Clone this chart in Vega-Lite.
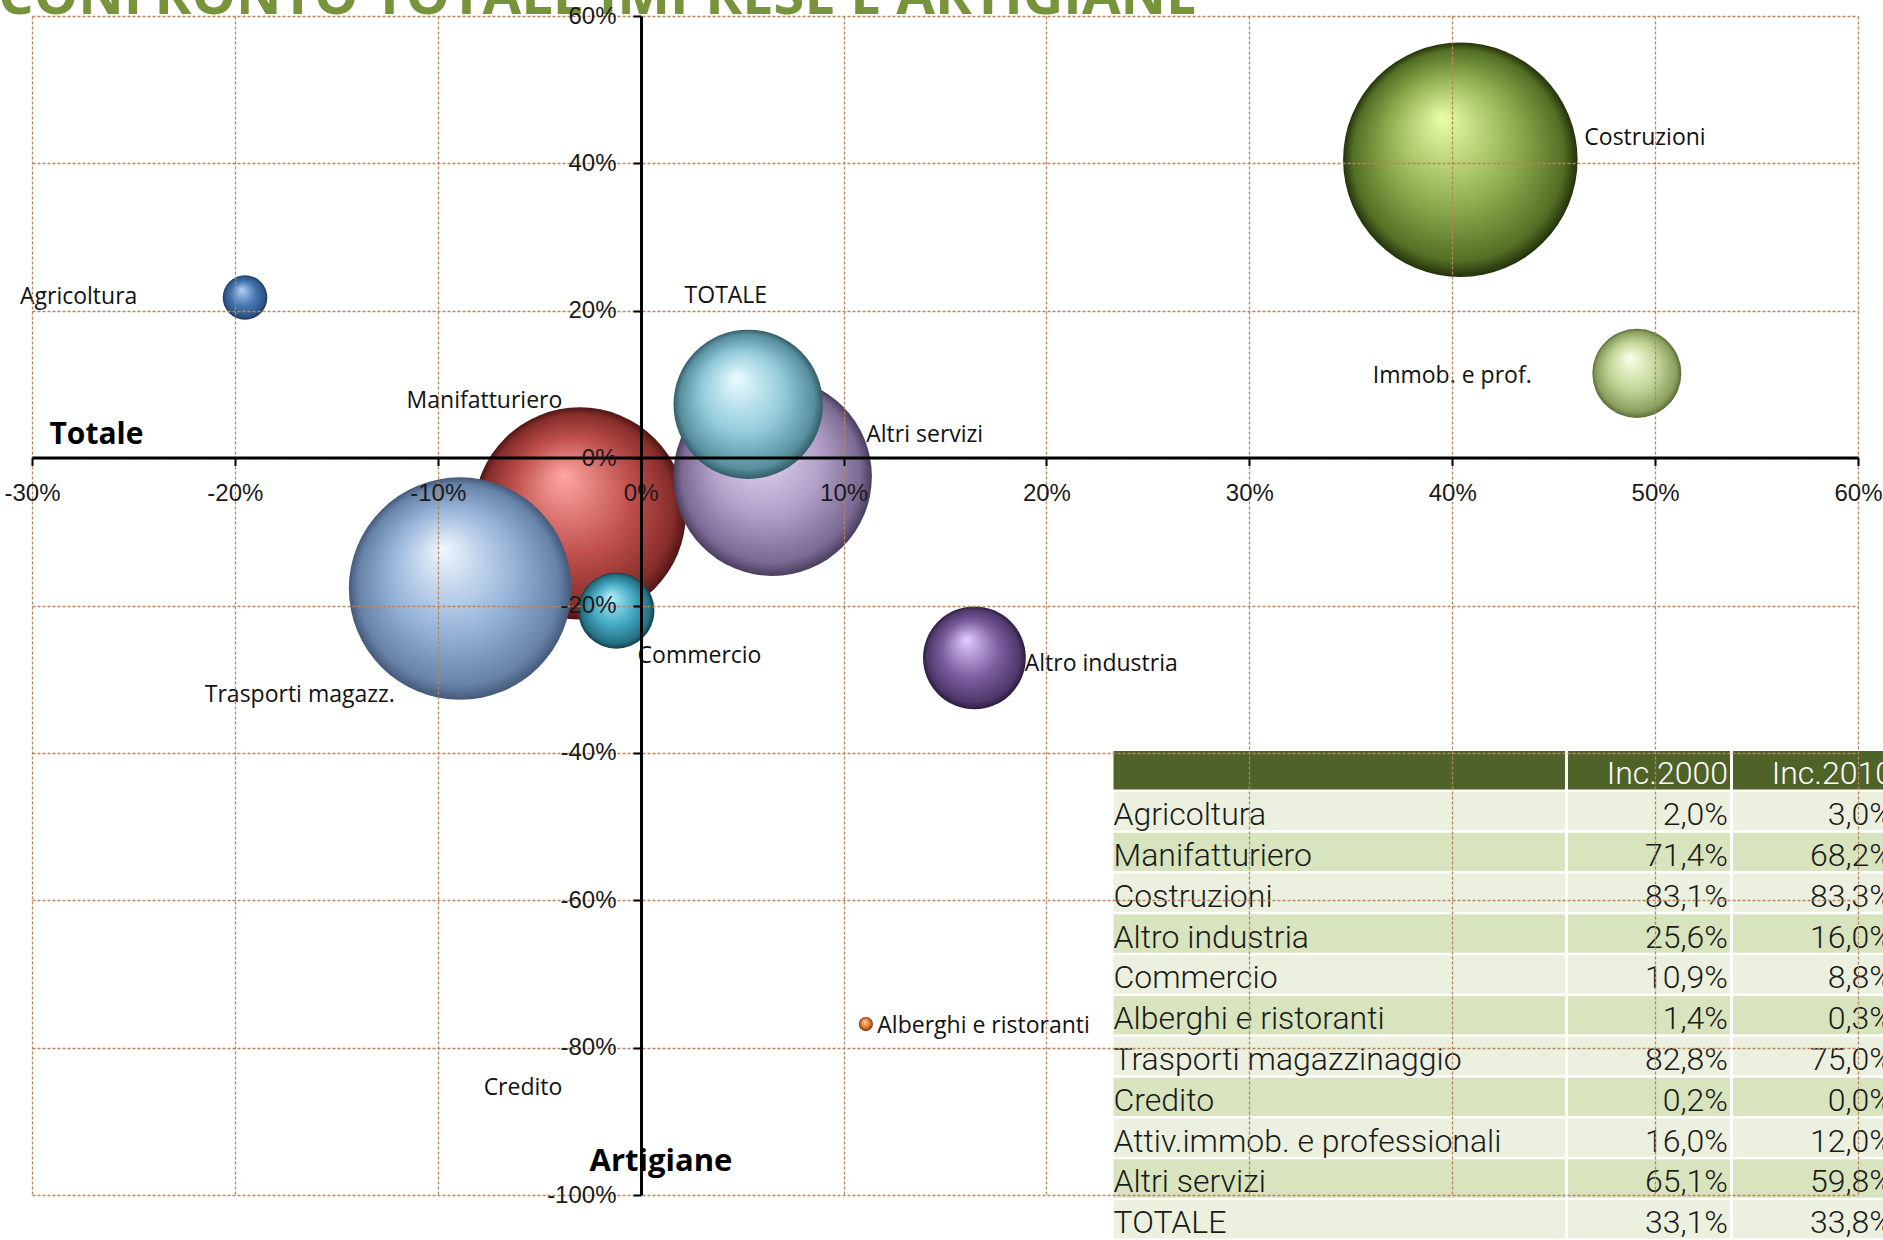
{
  "$schema": "https://vega.github.io/schema/vega-lite/v6.json",
  "width": 1826,
  "height": 1179,
  "autosize": {"type": "none"},
  "padding": {"left": 32, "top": 16, "right": 25, "bottom": 45},
  "background": "#ffffff",
  "title": {
    "text": "CONFRONTO TOTALE IMPRESE E ARTIGIANE",
    "anchor": "start",
    "frame": "group",
    "orient": "top",
    "offset": -66,
    "dx": -34,
    "font": "Open Sans",
    "fontSize": 56,
    "fontWeight": "bold",
    "color": "#77933C",
    "baseline": "alphabetic"
  },
  "config": {
    "view": {"stroke": null},
    "locale": {"number": {"decimal": ",", "thousands": ".", "grouping": [3], "currency": ["€", ""]}}
  },
  "datasets": {
    "settori": [
      {"settore": "Agricoltura", "etichetta": "Agricoltura", "x": -19.5, "y": 21.8, "lx": -27.7, "ly": 21.8, "i2000": 0.020, "i2010": 0.030},
      {"settore": "Manifatturiero", "etichetta": "Manifatturiero", "x": -3.0, "y": -7.5, "lx": -7.7, "ly": 7.8, "i2000": 0.714, "i2010": 0.682},
      {"settore": "Costruzioni", "etichetta": "Costruzioni", "x": 40.4, "y": 40.5, "lx": 49.5, "ly": 43.5, "i2000": 0.831, "i2010": 0.833},
      {"settore": "Altro industria", "etichetta": "Altro industria", "x": 16.45, "y": -27.1, "lx": 22.7, "ly": -27.9, "i2000": 0.256, "i2010": 0.160},
      {"settore": "Commercio", "etichetta": "Commercio", "x": -1.2, "y": -20.7, "lx": 2.9, "ly": -26.9, "i2000": 0.109, "i2010": 0.088},
      {"settore": "Alberghi e ristoranti", "etichetta": "Alberghi e ristoranti", "x": 11.1, "y": -76.8, "lx": 16.9, "ly": -77.0, "i2000": 0.014, "i2010": 0.003},
      {"settore": "Trasporti magazzinaggio", "etichetta": "Trasporti magazz.", "x": -8.9, "y": -17.7, "lx": -16.8, "ly": -32.1, "i2000": 0.828, "i2010": 0.750},
      {"settore": "Credito", "etichetta": "Credito", "x": 0.05, "y": -83.7, "lx": -5.8, "ly": -85.5, "i2000": 0.002, "i2010": 0.000},
      {"settore": "Attiv.immob. e professionali", "etichetta": "Immob. e prof.", "x": 49.1, "y": 11.5, "lx": 40.0, "ly": 11.2, "i2000": 0.160, "i2010": 0.120},
      {"settore": "Altri servizi", "etichetta": "Altri servizi", "x": 6.5, "y": -2.5, "lx": 14.0, "ly": 3.1, "i2000": 0.651, "i2010": 0.598},
      {"settore": "TOTALE", "etichetta": "TOTALE", "x": 5.3, "y": 7.3, "lx": 4.2, "ly": 22.0, "i2000": 0.331, "i2010": 0.338}
    ]
  },
  "layer": [
    {
      "data": {"name": "settori"},
      "encoding": {
        "x": {
          "field": "x", "type": "quantitative",
          "scale": {"domain": [-30, 60], "nice": false, "zero": false},
          "axis": {
            "values": [-30, -20, -10, 0, 10, 20, 30, 40, 50, 60],
            "labelExpr": "datum.value + '%'",
            "offset": -737.5,
            "grid": true, "gridColor": "#B8845C", "gridDash": [3, 2], "gridWidth": 1.3, "gridOpacity": 1,
            "domainColor": "#000000", "domainWidth": 3,
            "tickColor": "#000000", "tickWidth": 2, "tickSize": 8,
            "labelFont": "Liberation Sans", "labelFontSize": 24, "labelColor": "#1a1a1a", "labelPadding": 16,
            "labelFlush": false, "labelOverlap": false,
            "title": "Totale", "titleX": 17, "titleY": -14, "titleAlign": "left", "titleBaseline": "alphabetic",
            "titleFont": "Open Sans", "titleFontSize": 30, "titleFontWeight": "bold", "titleColor": "#000000",
            "zindex": 1
          }
        },
        "y": {
          "field": "y", "type": "quantitative",
          "scale": {"domain": [-100, 60], "nice": false, "zero": false},
          "axis": {
            "values": [-100, -80, -60, -40, -20, 0, 20, 40, 60],
            "labelExpr": "datum.value + '%'",
            "offset": -609,
            "grid": true, "gridColor": "#B8845C", "gridDash": [3, 2], "gridWidth": 1.3, "gridOpacity": 1,
            "domainColor": "#000000", "domainWidth": 3,
            "tickColor": "#000000", "tickWidth": 2, "tickSize": 8,
            "labelFont": "Liberation Sans", "labelFontSize": 24, "labelColor": "#1a1a1a", "labelPadding": 17,
            "labelFlush": false, "labelOverlap": false,
            "title": "Artigiane", "titleAngle": 0, "titleX": 19.5, "titleY": 1154, "titleAlign": "center", "titleBaseline": "alphabetic",
            "titleFont": "Open Sans", "titleFontSize": 31, "titleFontWeight": "bold", "titleColor": "#000000",
            "zindex": 1
          }
        },
        "size": {"field": "i2010", "type": "quantitative", "scale": {"domain": [0, 1], "range": [4, 66000]}, "legend": null}
      },
      "layer": [
        {"transform": [{"filter": {"field": "settore", "equal": "Agricoltura"}}],
         "mark": {"type": "circle", "opacity": 1, "fill": {"gradient": "radial", "x1": 0.42, "y1": 0.32, "r1": 0, "x2": 0.5, "y2": 0.5, "r2": 0.5,
           "stops": [{"offset": 0, "color": "#b3d0f5"}, {"offset": 0.55, "color": "#4677b3"}, {"offset": 0.9, "color": "#2c5485"}, {"offset": 1, "color": "#1b3556"}]}}},
        {"transform": [{"filter": {"field": "settore", "equal": "Manifatturiero"}}],
         "mark": {"type": "circle", "opacity": 1, "fill": {"gradient": "radial", "x1": 0.42, "y1": 0.32, "r1": 0, "x2": 0.5, "y2": 0.5, "r2": 0.5,
           "stops": [{"offset": 0, "color": "#ffa7a3"}, {"offset": 0.55, "color": "#c0504d"}, {"offset": 0.9, "color": "#862d2a"}, {"offset": 1, "color": "#4f1514"}]}}},
        {"transform": [{"filter": {"field": "settore", "equal": "Costruzioni"}}],
         "mark": {"type": "circle", "opacity": 1, "fill": {"gradient": "radial", "x1": 0.42, "y1": 0.32, "r1": 0, "x2": 0.5, "y2": 0.5, "r2": 0.5,
           "stops": [{"offset": 0, "color": "#e8ffa6"}, {"offset": 0.55, "color": "#8fae4f"}, {"offset": 0.9, "color": "#536f25"}, {"offset": 1, "color": "#23310b"}]}}},
        {"transform": [{"filter": {"field": "settore", "equal": "Altro industria"}}],
         "mark": {"type": "circle", "opacity": 1, "fill": {"gradient": "radial", "x1": 0.42, "y1": 0.32, "r1": 0, "x2": 0.5, "y2": 0.5, "r2": 0.5,
           "stops": [{"offset": 0, "color": "#e2ccff"}, {"offset": 0.55, "color": "#7c5fa0"}, {"offset": 0.9, "color": "#4f386b"}, {"offset": 1, "color": "#2a1c3b"}]}}},
        {"transform": [{"filter": {"field": "settore", "equal": "Commercio"}}],
         "mark": {"type": "circle", "opacity": 1, "fill": {"gradient": "radial", "x1": 0.42, "y1": 0.32, "r1": 0, "x2": 0.5, "y2": 0.5, "r2": 0.5,
           "stops": [{"offset": 0, "color": "#b3f1ff"}, {"offset": 0.55, "color": "#45a8c2"}, {"offset": 0.9, "color": "#246f83"}, {"offset": 1, "color": "#123d49"}]}}},
        {"transform": [{"filter": {"field": "settore", "equal": "Alberghi e ristoranti"}}],
         "mark": {"type": "circle", "opacity": 1, "fill": {"gradient": "radial", "x1": 0.42, "y1": 0.32, "r1": 0, "x2": 0.5, "y2": 0.5, "r2": 0.5,
           "stops": [{"offset": 0, "color": "#ffd2a3"}, {"offset": 0.55, "color": "#e8843a"}, {"offset": 0.9, "color": "#9a4a10"}, {"offset": 1, "color": "#6a2e05"}]}}},
        {"transform": [{"filter": {"field": "settore", "equal": "Trasporti magazzinaggio"}}],
         "mark": {"type": "circle", "opacity": 1, "fill": {"gradient": "radial", "x1": 0.42, "y1": 0.32, "r1": 0, "x2": 0.5, "y2": 0.5, "r2": 0.5,
           "stops": [{"offset": 0, "color": "#f0f7ff"}, {"offset": 0.55, "color": "#97b4d9"}, {"offset": 0.9, "color": "#6883a8"}, {"offset": 1, "color": "#44597a"}]}}},
        {"transform": [{"filter": {"field": "settore", "equal": "Credito"}}],
         "mark": {"type": "circle", "opacity": 1, "fill": "#a8a8a8"}},
        {"transform": [{"filter": {"field": "settore", "equal": "Attiv.immob. e professionali"}}],
         "mark": {"type": "circle", "opacity": 1, "fill": {"gradient": "radial", "x1": 0.42, "y1": 0.32, "r1": 0, "x2": 0.5, "y2": 0.5, "r2": 0.5,
           "stops": [{"offset": 0, "color": "#fcffe8"}, {"offset": 0.55, "color": "#c1d597"}, {"offset": 0.9, "color": "#8a9f5e"}, {"offset": 1, "color": "#5a6b37"}]}}},
        {"transform": [{"filter": {"field": "settore", "equal": "Altri servizi"}}],
         "mark": {"type": "circle", "opacity": 1, "fill": {"gradient": "radial", "x1": 0.42, "y1": 0.32, "r1": 0, "x2": 0.5, "y2": 0.5, "r2": 0.5,
           "stops": [{"offset": 0, "color": "#ebe2f5"}, {"offset": 0.55, "color": "#b2a0c8"}, {"offset": 0.9, "color": "#7a6992"}, {"offset": 1, "color": "#4a3d5d"}]}}},
        {"transform": [{"filter": {"field": "settore", "equal": "TOTALE"}}],
         "mark": {"type": "circle", "opacity": 1, "fill": {"gradient": "radial", "x1": 0.42, "y1": 0.32, "r1": 0, "x2": 0.5, "y2": 0.5, "r2": 0.5,
           "stops": [{"offset": 0, "color": "#eafcff"}, {"offset": 0.55, "color": "#93cbdb"}, {"offset": 0.9, "color": "#588f9e"}, {"offset": 1, "color": "#335c68"}]}}},
        {"mark": {"type": "text", "font": "Open Sans", "fontSize": 23, "color": "#111111", "align": "center", "baseline": "middle"},
         "encoding": {
           "x": {"field": "lx", "type": "quantitative", "title": "Totale"},
           "y": {"field": "ly", "type": "quantitative", "title": "Artigiane"},
           "size": null,
           "text": {"field": "etichetta"}
         }}
      ]
    },
    {
      "data": {"name": "settori"},
      "encoding": {
        "y": {"field": "settore", "type": "nominal",
              "scale": {"type": "band", "domain": ["intestazione", "Agricoltura", "Manifatturiero", "Costruzioni", "Altro industria", "Commercio", "Alberghi e ristoranti", "Trasporti magazzinaggio", "Credito", "Attiv.immob. e professionali", "Altri servizi", "TOTALE"], "range": [735, 1222.5], "paddingInner": 0.06, "paddingOuter": 0},
              "axis": null}
      },
      "layer": [
        {"mark": {"type": "rect"},
         "encoding": {
           "x": {"datum": 0, "type": "quantitative", "scale": {"domain": [0, 100], "range": [1081.5, 1863]}, "axis": null},
           "x2": {"datum": 57.77},
           "fill": {"field": "settore", "type": "nominal", "legend": null,
                    "scale": {"domain": ["Agricoltura", "Manifatturiero", "Costruzioni", "Altro industria", "Commercio", "Alberghi e ristoranti", "Trasporti magazzinaggio", "Credito", "Attiv.immob. e professionali", "Altri servizi", "TOTALE"],
                              "range": ["#EBF1DE", "#D7E4BD", "#EBF1DE", "#D7E4BD", "#EBF1DE", "#D7E4BD", "#EBF1DE", "#D7E4BD", "#EBF1DE", "#D7E4BD", "#EBF1DE"]}}
         }},
        {"mark": {"type": "rect"},
         "encoding": {
           "x": {"datum": 58.16, "type": "quantitative", "axis": null},
           "x2": {"datum": 78.89},
           "fill": {"field": "settore", "type": "nominal", "legend": null}
         }},
        {"mark": {"type": "rect"},
         "encoding": {
           "x": {"datum": 79.27, "type": "quantitative", "axis": null},
           "x2": {"datum": 100},
           "fill": {"field": "settore", "type": "nominal", "legend": null}
         }},
        {"mark": {"type": "text", "align": "left", "baseline": "alphabetic", "dy": 14, "font": "Roboto", "fontWeight": 300, "fontSize": 32, "color": "#1a1a1a"},
         "encoding": {
           "x": {"datum": 0, "type": "quantitative", "axis": null},
           "text": {"field": "settore"}
         }},
        {"mark": {"type": "text", "align": "right", "baseline": "alphabetic", "dy": 14, "dx": -2, "font": "Roboto", "fontWeight": 300, "fontSize": 32, "color": "#1a1a1a"},
         "encoding": {
           "x": {"datum": 78.89, "type": "quantitative", "axis": null},
           "text": {"field": "i2000", "type": "quantitative", "format": ".1%"}
         }},
        {"mark": {"type": "text", "align": "right", "baseline": "alphabetic", "dy": 14, "dx": -2, "font": "Roboto", "fontWeight": 300, "fontSize": 32, "color": "#1a1a1a"},
         "encoding": {
           "x": {"datum": 100, "type": "quantitative", "axis": null},
           "text": {"field": "i2010", "type": "quantitative", "format": ".1%"}
         }},
        {"data": {"values": [{"c2000": "Inc.2000", "c2010": "Inc.2010"}]},
         "mark": {"type": "rect", "fill": "#4F6228"},
         "encoding": {
           "y": {"datum": "intestazione", "type": "nominal", "axis": null},
           "x": {"datum": 0, "type": "quantitative", "axis": null},
           "x2": {"datum": 57.77}
         }},
        {"data": {"values": [{"c2000": "Inc.2000", "c2010": "Inc.2010"}]},
         "mark": {"type": "rect", "fill": "#4F6228"},
         "encoding": {
           "y": {"datum": "intestazione", "type": "nominal", "axis": null},
           "x": {"datum": 58.16, "type": "quantitative", "axis": null},
           "x2": {"datum": 78.89}
         }},
        {"data": {"values": [{"c2000": "Inc.2000", "c2010": "Inc.2010"}]},
         "mark": {"type": "rect", "fill": "#4F6228"},
         "encoding": {
           "y": {"datum": "intestazione", "type": "nominal", "axis": null},
           "x": {"datum": 79.27, "type": "quantitative", "axis": null},
           "x2": {"datum": 100}
         }},
        {"data": {"values": [{"c2000": "Inc.2000", "c2010": "Inc.2010"}]},
         "mark": {"type": "text", "align": "right", "baseline": "alphabetic", "dy": 14, "dx": -2, "font": "Roboto", "fontWeight": 300, "fontSize": 32, "color": "#ffffff"},
         "encoding": {
           "y": {"datum": "intestazione", "type": "nominal", "axis": null},
           "x": {"datum": 78.89, "type": "quantitative", "axis": null},
           "text": {"field": "c2000"}
         }},
        {"data": {"values": [{"c2000": "Inc.2000", "c2010": "Inc.2010"}]},
         "mark": {"type": "text", "align": "right", "baseline": "alphabetic", "dy": 14, "dx": -2, "font": "Roboto", "fontWeight": 300, "fontSize": 32, "color": "#ffffff"},
         "encoding": {
           "y": {"datum": "intestazione", "type": "nominal", "axis": null},
           "x": {"datum": 100, "type": "quantitative", "axis": null},
           "text": {"field": "c2010"}
         }}
      ]
    }
  ],
  "resolve": {"scale": {"x": "independent", "y": "independent"}}
}
